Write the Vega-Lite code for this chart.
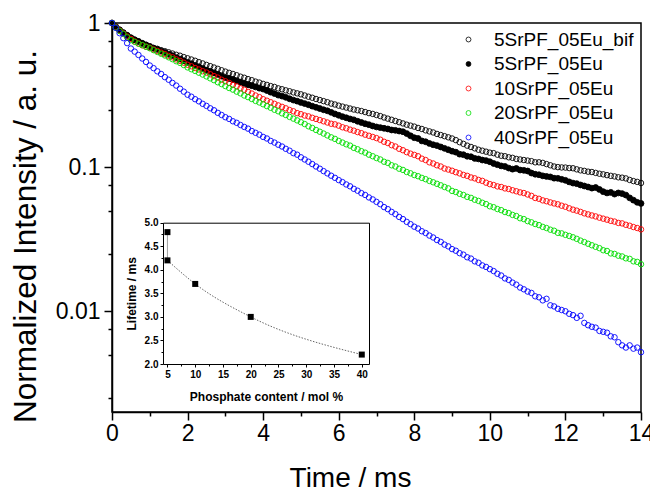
{
"$schema":"https://vega.github.io/schema/vega-lite/v6.json",
"width":529,"height":389,"autosize":"none",
"padding":{"left":112,"top":23,"right":9,"bottom":81},
"background":"white",
"config":{"view":{"stroke":"#000","strokeWidth":1.5},"font":"Liberation Sans","axis":{"grid":false,"domainColor":"#000","tickColor":"#000","labelColor":"#000","titleColor":"#000","labelFlush":false,"labelOverlap":false}},
"datasets":{
"bif":[{"t":0,"v":1},{"t":0.1,"v":0.945},{"t":0.2,"v":0.9},{"t":0.3,"v":0.86},{"t":0.4,"v":0.825},{"t":0.5,"v":0.79},{"t":0.6,"v":0.765},{"t":0.7,"v":0.745},{"t":0.8,"v":0.725},{"t":0.9,"v":0.705},
{"t":1,"v":0.687},{"t":1.1,"v":0.672},{"t":1.2,"v":0.662},{"t":1.3,"v":0.648},{"t":1.4,"v":0.637},{"t":1.5,"v":0.626},{"t":1.6,"v":0.614},{"t":1.7,"v":0.602},{"t":1.8,"v":0.593},{"t":1.9,"v":0.58},
{"t":2,"v":0.569},{"t":2.1,"v":0.558},{"t":2.2,"v":0.547},{"t":2.3,"v":0.535},{"t":2.4,"v":0.524},{"t":2.5,"v":0.512},{"t":2.6,"v":0.502},{"t":2.7,"v":0.491},{"t":2.8,"v":0.481},{"t":2.9,"v":0.47},
{"t":3,"v":0.46},{"t":3.1,"v":0.451},{"t":3.2,"v":0.443},{"t":3.3,"v":0.434},{"t":3.4,"v":0.424},{"t":3.5,"v":0.417},{"t":3.6,"v":0.408},{"t":3.7,"v":0.401},{"t":3.8,"v":0.392},{"t":3.9,"v":0.386},
{"t":4,"v":0.378},{"t":4.1,"v":0.372},{"t":4.2,"v":0.365},{"t":4.3,"v":0.36},{"t":4.4,"v":0.352},{"t":4.5,"v":0.347},{"t":4.6,"v":0.341},{"t":4.7,"v":0.336},{"t":4.8,"v":0.33},{"t":4.9,"v":0.325},
{"t":5,"v":0.32},{"t":5.1,"v":0.314},{"t":5.2,"v":0.308},{"t":5.3,"v":0.303},{"t":5.4,"v":0.297},{"t":5.5,"v":0.292},{"t":5.6,"v":0.287},{"t":5.7,"v":0.282},{"t":5.8,"v":0.276},{"t":5.9,"v":0.272},
{"t":6,"v":0.267},{"t":6.1,"v":0.263},{"t":6.2,"v":0.259},{"t":6.3,"v":0.255},{"t":6.4,"v":0.251},{"t":6.5,"v":0.248},{"t":6.6,"v":0.245},{"t":6.7,"v":0.241},{"t":6.8,"v":0.237},{"t":6.9,"v":0.234},
{"t":7,"v":0.23},{"t":7.1,"v":0.226},{"t":7.2,"v":0.221},{"t":7.3,"v":0.217},{"t":7.4,"v":0.213},{"t":7.5,"v":0.209},{"t":7.6,"v":0.205},{"t":7.7,"v":0.201},{"t":7.8,"v":0.197},{"t":7.9,"v":0.194},
{"t":8,"v":0.191},{"t":8.1,"v":0.187},{"t":8.2,"v":0.184},{"t":8.3,"v":0.18},{"t":8.4,"v":0.177},{"t":8.5,"v":0.174},{"t":8.6,"v":0.17},{"t":8.7,"v":0.167},{"t":8.8,"v":0.164},{"t":8.9,"v":0.161},
{"t":9,"v":0.158},{"t":9.1,"v":0.154},{"t":9.2,"v":0.149},{"t":9.3,"v":0.145},{"t":9.4,"v":0.141},{"t":9.5,"v":0.138},{"t":9.6,"v":0.135},{"t":9.7,"v":0.132},{"t":9.8,"v":0.13},{"t":9.9,"v":0.128},
{"t":10,"v":0.126},{"t":10.1,"v":0.125},{"t":10.2,"v":0.122},{"t":10.3,"v":0.12},{"t":10.4,"v":0.119},{"t":10.5,"v":0.117},{"t":10.6,"v":0.116},{"t":10.7,"v":0.114},{"t":10.8,"v":0.113},{"t":10.9,"v":0.112},
{"t":11,"v":0.111},{"t":11.1,"v":0.11},{"t":11.2,"v":0.108},{"t":11.3,"v":0.108},{"t":11.4,"v":0.107},{"t":11.5,"v":0.105},{"t":11.6,"v":0.103},{"t":11.7,"v":0.101},{"t":11.8,"v":0.1},{"t":11.9,"v":0.0995},
{"t":12,"v":0.0993},{"t":12.1,"v":0.0985},{"t":12.2,"v":0.0982},{"t":12.3,"v":0.0965},{"t":12.4,"v":0.095},{"t":12.5,"v":0.0942},{"t":12.6,"v":0.093},{"t":12.7,"v":0.0925},{"t":12.8,"v":0.0912},{"t":12.9,"v":0.09},
{"t":13,"v":0.0891},{"t":13.1,"v":0.088},{"t":13.2,"v":0.087},{"t":13.3,"v":0.0862},{"t":13.4,"v":0.085},{"t":13.5,"v":0.0845},{"t":13.6,"v":0.0835},{"t":13.7,"v":0.0815},{"t":13.8,"v":0.08},{"t":13.9,"v":0.079},{"t":14,"v":0.0776}],
"b5":[{"t":0,"v":1},{"t":0.1,"v":0.94},{"t":0.2,"v":0.895},{"t":0.3,"v":0.855},{"t":0.4,"v":0.82},{"t":0.5,"v":0.79},{"t":0.6,"v":0.765},{"t":0.7,"v":0.745},{"t":0.8,"v":0.722},{"t":0.9,"v":0.705},
{"t":1,"v":0.687},{"t":1.1,"v":0.668},{"t":1.2,"v":0.656},{"t":1.3,"v":0.638},{"t":1.4,"v":0.625},{"t":1.5,"v":0.607},{"t":1.6,"v":0.594},{"t":1.7,"v":0.575},{"t":1.8,"v":0.562},{"t":1.9,"v":0.547},
{"t":2,"v":0.533},{"t":2.1,"v":0.522},{"t":2.2,"v":0.508},{"t":2.3,"v":0.497},{"t":2.4,"v":0.483},{"t":2.5,"v":0.47},{"t":2.6,"v":0.461},{"t":2.7,"v":0.45},{"t":2.8,"v":0.44},{"t":2.9,"v":0.428},
{"t":3,"v":0.418},{"t":3.1,"v":0.412},{"t":3.2,"v":0.404},{"t":3.3,"v":0.396},{"t":3.4,"v":0.388},{"t":3.5,"v":0.381},{"t":3.6,"v":0.373},{"t":3.7,"v":0.367},{"t":3.8,"v":0.36},{"t":3.9,"v":0.353},
{"t":4,"v":0.348},{"t":4.1,"v":0.34},{"t":4.2,"v":0.331},{"t":4.3,"v":0.324},{"t":4.4,"v":0.316},{"t":4.5,"v":0.311},{"t":4.6,"v":0.305},{"t":4.7,"v":0.298},{"t":4.8,"v":0.292},{"t":4.9,"v":0.287},
{"t":5,"v":0.281},{"t":5.1,"v":0.276},{"t":5.2,"v":0.271},{"t":5.3,"v":0.265},{"t":5.4,"v":0.26},{"t":5.5,"v":0.255},{"t":5.6,"v":0.25},{"t":5.7,"v":0.246},{"t":5.8,"v":0.24},{"t":5.9,"v":0.234},
{"t":6,"v":0.229},{"t":6.1,"v":0.224},{"t":6.2,"v":0.22},{"t":6.3,"v":0.216},{"t":6.4,"v":0.213},{"t":6.5,"v":0.208},{"t":6.6,"v":0.204},{"t":6.7,"v":0.2},{"t":6.8,"v":0.197},{"t":6.9,"v":0.193},
{"t":7,"v":0.19},{"t":7.1,"v":0.188},{"t":7.2,"v":0.186},{"t":7.3,"v":0.184},{"t":7.4,"v":0.181},{"t":7.5,"v":0.18},{"t":7.6,"v":0.178},{"t":7.7,"v":0.176},{"t":7.8,"v":0.171},{"t":7.9,"v":0.165},
{"t":8,"v":0.16},{"t":8.1,"v":0.158},{"t":8.2,"v":0.152},{"t":8.3,"v":0.15},{"t":8.4,"v":0.146},{"t":8.5,"v":0.143},{"t":8.6,"v":0.141},{"t":8.7,"v":0.138},{"t":8.8,"v":0.135},{"t":8.9,"v":0.132},
{"t":9,"v":0.129},{"t":9.1,"v":0.127},{"t":9.2,"v":0.123},{"t":9.3,"v":0.122},{"t":9.4,"v":0.119},{"t":9.5,"v":0.118},{"t":9.6,"v":0.115},{"t":9.7,"v":0.114},{"t":9.8,"v":0.112},{"t":9.9,"v":0.111},
{"t":10,"v":0.109},{"t":10.1,"v":0.106},{"t":10.2,"v":0.104},{"t":10.3,"v":0.102},{"t":10.4,"v":0.101},{"t":10.5,"v":0.0985},{"t":10.6,"v":0.0968},{"t":10.7,"v":0.0979},{"t":10.8,"v":0.0955},{"t":10.9,"v":0.095},
{"t":11,"v":0.094},{"t":11.1,"v":0.091},{"t":11.2,"v":0.0893},{"t":11.3,"v":0.0885},{"t":11.4,"v":0.087},{"t":11.5,"v":0.0862},{"t":11.6,"v":0.0855},{"t":11.7,"v":0.0838},{"t":11.8,"v":0.0836},{"t":11.9,"v":0.0823},
{"t":12,"v":0.081},{"t":12.1,"v":0.079},{"t":12.2,"v":0.0775},{"t":12.3,"v":0.0768},{"t":12.4,"v":0.0752},{"t":12.5,"v":0.074},{"t":12.6,"v":0.0728},{"t":12.7,"v":0.0715},{"t":12.8,"v":0.0722},{"t":12.9,"v":0.07},
{"t":13,"v":0.0676},{"t":13.1,"v":0.0662},{"t":13.2,"v":0.0668},{"t":13.3,"v":0.065},{"t":13.4,"v":0.0662},{"t":13.5,"v":0.0655},{"t":13.6,"v":0.064},{"t":13.7,"v":0.0612},{"t":13.8,"v":0.059},{"t":13.9,"v":0.057},{"t":14,"v":0.056}],
"c10":[{"t":0,"v":1},{"t":0.1,"v":0.935},{"t":0.2,"v":0.885},{"t":0.3,"v":0.845},{"t":0.4,"v":0.805},{"t":0.5,"v":0.775},{"t":0.6,"v":0.745},{"t":0.7,"v":0.722},{"t":0.8,"v":0.7},{"t":0.9,"v":0.685},
{"t":1,"v":0.673},{"t":1.1,"v":0.655},{"t":1.2,"v":0.64},{"t":1.3,"v":0.623},{"t":1.4,"v":0.608},{"t":1.5,"v":0.591},{"t":1.6,"v":0.578},{"t":1.7,"v":0.559},{"t":1.8,"v":0.546},{"t":1.9,"v":0.53},
{"t":2,"v":0.513},{"t":2.1,"v":0.501},{"t":2.2,"v":0.487},{"t":2.3,"v":0.476},{"t":2.4,"v":0.463},{"t":2.5,"v":0.453},{"t":2.6,"v":0.441},{"t":2.7,"v":0.428},{"t":2.8,"v":0.418},{"t":2.9,"v":0.404},
{"t":3,"v":0.394},{"t":3.1,"v":0.384},{"t":3.2,"v":0.372},{"t":3.3,"v":0.364},{"t":3.4,"v":0.352},{"t":3.5,"v":0.344},{"t":3.6,"v":0.333},{"t":3.7,"v":0.324},{"t":3.8,"v":0.314},{"t":3.9,"v":0.306},
{"t":4,"v":0.296},{"t":4.1,"v":0.289},{"t":4.2,"v":0.282},{"t":4.3,"v":0.275},{"t":4.4,"v":0.268},{"t":4.5,"v":0.262},{"t":4.6,"v":0.256},{"t":4.7,"v":0.249},{"t":4.8,"v":0.244},{"t":4.9,"v":0.237},
{"t":5,"v":0.233},{"t":5.1,"v":0.228},{"t":5.2,"v":0.225},{"t":5.3,"v":0.22},{"t":5.4,"v":0.216},{"t":5.5,"v":0.212},{"t":5.6,"v":0.208},{"t":5.7,"v":0.204},{"t":5.8,"v":0.2},{"t":5.9,"v":0.198},
{"t":6,"v":0.194},{"t":6.1,"v":0.189},{"t":6.2,"v":0.186},{"t":6.3,"v":0.182},{"t":6.4,"v":0.179},{"t":6.5,"v":0.175},{"t":6.6,"v":0.172},{"t":6.7,"v":0.168},{"t":6.8,"v":0.165},{"t":6.9,"v":0.162},
{"t":7,"v":0.159},{"t":7.1,"v":0.155},{"t":7.2,"v":0.15},{"t":7.3,"v":0.147},{"t":7.4,"v":0.142},{"t":7.5,"v":0.139},{"t":7.6,"v":0.134},{"t":7.7,"v":0.131},{"t":7.8,"v":0.127},{"t":7.9,"v":0.124},
{"t":8,"v":0.1216},{"t":8.1,"v":0.119},{"t":8.2,"v":0.1145},{"t":8.3,"v":0.112},{"t":8.4,"v":0.108},{"t":8.5,"v":0.106},{"t":8.6,"v":0.103},{"t":8.7,"v":0.101},{"t":8.8,"v":0.0978},{"t":8.9,"v":0.0962},
{"t":9,"v":0.0944},{"t":9.1,"v":0.0922},{"t":9.2,"v":0.0905},{"t":9.3,"v":0.0883},{"t":9.4,"v":0.087},{"t":9.5,"v":0.0848},{"t":9.6,"v":0.0836},{"t":9.7,"v":0.0815},{"t":9.8,"v":0.0803},{"t":9.9,"v":0.078},
{"t":10,"v":0.0762},{"t":10.1,"v":0.0751},{"t":10.2,"v":0.0735},{"t":10.3,"v":0.0728},{"t":10.4,"v":0.0712},{"t":10.5,"v":0.0705},{"t":10.6,"v":0.0691},{"t":10.7,"v":0.068},{"t":10.8,"v":0.0668},{"t":10.9,"v":0.0661},
{"t":11,"v":0.0646},{"t":11.1,"v":0.0632},{"t":11.2,"v":0.0611},{"t":11.3,"v":0.0603},{"t":11.4,"v":0.0588},{"t":11.5,"v":0.058},{"t":11.6,"v":0.0569},{"t":11.7,"v":0.056},{"t":11.8,"v":0.0552},{"t":11.9,"v":0.054},
{"t":12,"v":0.0531},{"t":12.1,"v":0.0518},{"t":12.2,"v":0.0507},{"t":12.3,"v":0.0499},{"t":12.4,"v":0.0489},{"t":12.5,"v":0.0478},{"t":12.6,"v":0.047},{"t":12.7,"v":0.0462},{"t":12.8,"v":0.0455},{"t":12.9,"v":0.0446},
{"t":13,"v":0.0439},{"t":13.1,"v":0.0432},{"t":13.2,"v":0.0424},{"t":13.3,"v":0.0419},{"t":13.4,"v":0.041},{"t":13.5,"v":0.0407},{"t":13.6,"v":0.0398},{"t":13.7,"v":0.0392},{"t":13.8,"v":0.0384},{"t":13.9,"v":0.0378},{"t":14,"v":0.037}],
"c20":[{"t":0,"v":1},{"t":0.1,"v":0.93},{"t":0.2,"v":0.88},{"t":0.3,"v":0.84},{"t":0.4,"v":0.795},{"t":0.5,"v":0.76},{"t":0.6,"v":0.74},{"t":0.7,"v":0.718},{"t":0.8,"v":0.703},{"t":0.9,"v":0.684},
{"t":1,"v":0.668},{"t":1.1,"v":0.648},{"t":1.2,"v":0.63},{"t":1.3,"v":0.612},{"t":1.4,"v":0.595},{"t":1.5,"v":0.578},{"t":1.6,"v":0.561},{"t":1.7,"v":0.543},{"t":1.8,"v":0.529},{"t":1.9,"v":0.511},
{"t":2,"v":0.492},{"t":2.1,"v":0.478},{"t":2.2,"v":0.465},{"t":2.3,"v":0.452},{"t":2.4,"v":0.439},{"t":2.5,"v":0.426},{"t":2.6,"v":0.413},{"t":2.7,"v":0.401},{"t":2.8,"v":0.388},{"t":2.9,"v":0.377},
{"t":3,"v":0.365},{"t":3.1,"v":0.354},{"t":3.2,"v":0.345},{"t":3.3,"v":0.334},{"t":3.4,"v":0.325},{"t":3.5,"v":0.314},{"t":3.6,"v":0.306},{"t":3.7,"v":0.297},{"t":3.8,"v":0.288},{"t":3.9,"v":0.281},
{"t":4,"v":0.273},{"t":4.1,"v":0.265},{"t":4.2,"v":0.258},{"t":4.3,"v":0.25},{"t":4.4,"v":0.244},{"t":4.5,"v":0.236},{"t":4.6,"v":0.23},{"t":4.7,"v":0.223},{"t":4.8,"v":0.217},{"t":4.9,"v":0.211},
{"t":5,"v":0.205},{"t":5.1,"v":0.199},{"t":5.2,"v":0.192},{"t":5.3,"v":0.187},{"t":5.4,"v":0.181},{"t":5.5,"v":0.176},{"t":5.6,"v":0.171},{"t":5.7,"v":0.166},{"t":5.8,"v":0.161},{"t":5.9,"v":0.157},
{"t":6,"v":0.152},{"t":6.1,"v":0.148},{"t":6.2,"v":0.144},{"t":6.3,"v":0.141},{"t":6.4,"v":0.136},{"t":6.5,"v":0.133},{"t":6.6,"v":0.129},{"t":6.7,"v":0.126},{"t":6.8,"v":0.122},{"t":6.9,"v":0.119},
{"t":7,"v":0.1156},{"t":7.1,"v":0.113},{"t":7.2,"v":0.109},{"t":7.3,"v":0.107},{"t":7.4,"v":0.103},{"t":7.5,"v":0.101},{"t":7.6,"v":0.0975},{"t":7.7,"v":0.0956},{"t":7.8,"v":0.0925},{"t":7.9,"v":0.0906},
{"t":8,"v":0.0881},{"t":8.1,"v":0.0865},{"t":8.2,"v":0.0842},{"t":8.3,"v":0.0825},{"t":8.4,"v":0.0802},{"t":8.5,"v":0.0785},{"t":8.6,"v":0.0766},{"t":8.7,"v":0.0748},{"t":8.8,"v":0.0728},{"t":8.9,"v":0.0712},
{"t":9,"v":0.0684},{"t":9.1,"v":0.0672},{"t":9.2,"v":0.0653},{"t":9.3,"v":0.0641},{"t":9.4,"v":0.0622},{"t":9.5,"v":0.0612},{"t":9.6,"v":0.0594},{"t":9.7,"v":0.0583},{"t":9.8,"v":0.0566},{"t":9.9,"v":0.0554},
{"t":10,"v":0.0535},{"t":10.1,"v":0.0527},{"t":10.2,"v":0.0512},{"t":10.3,"v":0.0503},{"t":10.4,"v":0.0488},{"t":10.5,"v":0.048},{"t":10.6,"v":0.0466},{"t":10.7,"v":0.0458},{"t":10.8,"v":0.0442},{"t":10.9,"v":0.0436},
{"t":11,"v":0.0422},{"t":11.1,"v":0.0414},{"t":11.2,"v":0.0403},{"t":11.3,"v":0.0396},{"t":11.4,"v":0.0385},{"t":11.5,"v":0.0378},{"t":11.6,"v":0.0368},{"t":11.7,"v":0.0362},{"t":11.8,"v":0.035},{"t":11.9,"v":0.0347},
{"t":12,"v":0.0339},{"t":12.1,"v":0.0333},{"t":12.2,"v":0.0326},{"t":12.3,"v":0.0318},{"t":12.4,"v":0.0309},{"t":12.5,"v":0.0302},{"t":12.6,"v":0.0294},{"t":12.7,"v":0.0287},{"t":12.8,"v":0.028},{"t":12.9,"v":0.0274},
{"t":13,"v":0.0265},{"t":13.1,"v":0.0262},{"t":13.2,"v":0.0252},{"t":13.3,"v":0.025},{"t":13.4,"v":0.0243},{"t":13.5,"v":0.024},{"t":13.6,"v":0.0233},{"t":13.7,"v":0.0231},{"t":13.8,"v":0.0222},{"t":13.9,"v":0.022},{"t":14,"v":0.0212}],
"c40":[{"t":0,"v":1},{"t":0.1,"v":0.925},{"t":0.2,"v":0.85},{"t":0.3,"v":0.785},{"t":0.4,"v":0.725},{"t":0.5,"v":0.665},{"t":0.6,"v":0.633},{"t":0.7,"v":0.6},{"t":0.8,"v":0.567},{"t":0.9,"v":0.537},
{"t":1,"v":0.507},{"t":1.1,"v":0.486},{"t":1.2,"v":0.462},{"t":1.3,"v":0.443},{"t":1.4,"v":0.421},{"t":1.5,"v":0.404},{"t":1.6,"v":0.384},{"t":1.7,"v":0.368},{"t":1.8,"v":0.35},{"t":1.9,"v":0.334},
{"t":2,"v":0.318},{"t":2.1,"v":0.308},{"t":2.2,"v":0.296},{"t":2.3,"v":0.286},{"t":2.4,"v":0.275},{"t":2.5,"v":0.266},{"t":2.6,"v":0.256},{"t":2.7,"v":0.248},{"t":2.8,"v":0.238},{"t":2.9,"v":0.23},
{"t":3,"v":0.222},{"t":3.1,"v":0.216},{"t":3.2,"v":0.208},{"t":3.3,"v":0.203},{"t":3.4,"v":0.196},{"t":3.5,"v":0.19},{"t":3.6,"v":0.185},{"t":3.7,"v":0.178},{"t":3.8,"v":0.173},{"t":3.9,"v":0.168},
{"t":4,"v":0.162},{"t":4.1,"v":0.158},{"t":4.2,"v":0.152},{"t":4.3,"v":0.148},{"t":4.4,"v":0.143},{"t":4.5,"v":0.139},{"t":4.6,"v":0.134},{"t":4.7,"v":0.13},{"t":4.8,"v":0.125},{"t":4.9,"v":0.122},
{"t":5,"v":0.117},{"t":5.1,"v":0.113},{"t":5.2,"v":0.109},{"t":5.3,"v":0.105},{"t":5.4,"v":0.101},{"t":5.5,"v":0.0975},{"t":5.6,"v":0.0938},{"t":5.7,"v":0.0905},{"t":5.8,"v":0.0872},{"t":5.9,"v":0.0843},
{"t":6,"v":0.0813},{"t":6.1,"v":0.0787},{"t":6.2,"v":0.0758},{"t":6.3,"v":0.0736},{"t":6.4,"v":0.0707},{"t":6.5,"v":0.0686},{"t":6.6,"v":0.066},{"t":6.7,"v":0.0641},{"t":6.8,"v":0.0616},{"t":6.9,"v":0.0597},
{"t":7,"v":0.0574},{"t":7.1,"v":0.0553},{"t":7.2,"v":0.0528},{"t":7.3,"v":0.0511},{"t":7.4,"v":0.0489},{"t":7.5,"v":0.0472},{"t":7.6,"v":0.0451},{"t":7.7,"v":0.0436},{"t":7.8,"v":0.0417},{"t":7.9,"v":0.0402},
{"t":8,"v":0.0386},{"t":8.1,"v":0.0375},{"t":8.2,"v":0.0359},{"t":8.3,"v":0.0349},{"t":8.4,"v":0.0335},{"t":8.5,"v":0.0325},{"t":8.6,"v":0.0312},{"t":8.7,"v":0.0303},{"t":8.8,"v":0.029},{"t":8.9,"v":0.0282},
{"t":9,"v":0.027},{"t":9.1,"v":0.0263},{"t":9.2,"v":0.0253},{"t":9.3,"v":0.0247},{"t":9.4,"v":0.0237},{"t":9.5,"v":0.0232},{"t":9.6,"v":0.0222},{"t":9.7,"v":0.0217},{"t":9.8,"v":0.0208},{"t":9.9,"v":0.0203},
{"t":10,"v":0.0196},{"t":10.1,"v":0.019},{"t":10.2,"v":0.0182},{"t":10.3,"v":0.0177},{"t":10.4,"v":0.0169},{"t":10.5,"v":0.0165},{"t":10.6,"v":0.0158},{"t":10.7,"v":0.0153},{"t":10.8,"v":0.0146},{"t":10.9,"v":0.0142},
{"t":11,"v":0.0137},{"t":11.1,"v":0.0134},{"t":11.2,"v":0.0127},{"t":11.3,"v":0.0125},{"t":11.4,"v":0.0119},{"t":11.5,"v":0.0122},{"t":11.6,"v":0.011},{"t":11.7,"v":0.0108},{"t":11.8,"v":0.0104},{"t":11.9,"v":0.0102},
{"t":12,"v":0.01},{"t":12.1,"v":0.0096},{"t":12.2,"v":0.0094},{"t":12.3,"v":0.009},{"t":12.4,"v":0.0093},{"t":12.5,"v":0.0083},{"t":12.6,"v":0.008},{"t":12.7,"v":0.0078},{"t":12.8,"v":0.0077},{"t":12.9,"v":0.0073},
{"t":13,"v":0.0072},{"t":13.1,"v":0.0071},{"t":13.2,"v":0.0067},{"t":13.3,"v":0.0066},{"t":13.4,"v":0.0061},{"t":13.5,"v":0.0058},{"t":13.6,"v":0.0056},{"t":13.7,"v":0.0058},{"t":13.8,"v":0.0055},{"t":13.9,"v":0.0056},{"t":14,"v":0.0052}]
},
"resolve":{"scale":{"x":"independent","y":"independent"}},
"layer":[
{
"encoding":{
"x":{"field":"t","type":"quantitative","scale":{"domain":[0,14],"nice":false,"zero":false},
 "axis":{"title":"Time / ms","values":[0,1,2,3,4,5,6,7,8,9,10,11,12,13,14],"format":"d","labelExpr":"datum.value % 2 == 0 ? datum.label : ''","tickSize":{"condition":{"test":"datum.value % 2 == 0","value":8},"value":4},"tickWidth":1.5,"domainWidth":1.5,"labelFontSize":23,"labelPadding":2,"titleFontSize":28,"titleFontWeight":"normal","titleX":238,"titleY":66,"titleAlign":"center","titleBaseline":"middle"}},
"y":{"field":"v","type":"quantitative","scale":{"type":"log","domain":[0.002,1],"nice":false},
 "axis":{"title":"Normalized Intensity / a. u.","values":[1,0.75,0.5,0.25,0.1,0.075,0.05,0.025,0.01,0.0075,0.005,0.0025],"labelExpr":"datum.value == 1 ? '1' : datum.value == 0.1 ? '0.1' : datum.value == 0.01 ? '0.01' : ''","tickSize":{"condition":{"test":"datum.value == 1 || datum.value == 0.1 || datum.value == 0.01","value":8},"value":4},"tickWidth":1.5,"domainWidth":1.5,"labelFontSize":23,"labelPadding":4,"titleFontSize":31.5,"titleFontWeight":"normal","titleAngle":-90,"titleX":-86,"titleY":213,"titleBaseline":"middle","titleAlign":"center"}}
},
"layer":[
{"data":{"name":"bif"},"mark":{"type":"point","shape":"circle","size":30,"strokeWidth":0.9,"filled":true,"opacity":1},
 "encoding":{
  "stroke":{"datum":"5SrPF_05Eu_bif","type":"nominal","scale":{"domain":["5SrPF_05Eu_bif","5SrPF_05Eu","10SrPF_05Eu","20SrPF_05Eu","40SrPF_05Eu"],"range":["#000000","#000000","#ff0000","#00dd00","#0000ff"]},"legend":{"title":null,"orient":"none","legendX":347,"legendY":7,"labelFontSize":19,"labelColor":"#000","symbolType":"circle","symbolSize":24,"symbolStrokeWidth":0.8,"rowPadding":4.5,"labelOffset":16,"padding":0}},
  "fill":{"datum":"5SrPF_05Eu_bif","type":"nominal","scale":{"domain":["5SrPF_05Eu_bif","5SrPF_05Eu","10SrPF_05Eu","20SrPF_05Eu","40SrPF_05Eu"],"range":["transparent","#000000","transparent","transparent","transparent"]},"legend":{"title":null,"orient":"none","legendX":347,"legendY":7,"labelFontSize":19,"labelColor":"#000","symbolType":"circle","symbolSize":24,"symbolStrokeWidth":0.8,"rowPadding":4.5,"labelOffset":16,"padding":0}}}},
{"data":{"name":"b5"},"mark":{"type":"point","shape":"circle","size":34,"strokeWidth":0.9,"filled":true,"opacity":1},
 "encoding":{"stroke":{"datum":"5SrPF_05Eu","type":"nominal"},"fill":{"datum":"5SrPF_05Eu","type":"nominal"}}},
{"data":{"name":"c10"},"mark":{"type":"point","shape":"circle","size":30,"strokeWidth":0.9,"filled":true,"opacity":1},
 "encoding":{"stroke":{"datum":"10SrPF_05Eu","type":"nominal"},"fill":{"datum":"10SrPF_05Eu","type":"nominal"}}},
{"data":{"name":"c20"},"mark":{"type":"point","shape":"circle","size":30,"strokeWidth":0.9,"filled":true,"opacity":1},
 "encoding":{"stroke":{"datum":"20SrPF_05Eu","type":"nominal"},"fill":{"datum":"20SrPF_05Eu","type":"nominal"}}},
{"data":{"name":"c40"},"mark":{"type":"point","shape":"circle","size":30,"strokeWidth":0.9,"filled":true,"opacity":1},
 "encoding":{"stroke":{"datum":"40SrPF_05Eu","type":"nominal"},"fill":{"datum":"40SrPF_05Eu","type":"nominal"}}}
]
},
{"data":{"values":[{"p":5,"lt":4.2},{"p":10,"lt":3.7},{"p":20,"lt":3.0},{"p":40,"lt":2.2}]},
 "mark":{"type":"line","interpolate":"monotone","color":"#666666","strokeWidth":1,"strokeDash":[1.5,1.5]},
 "encoding":{
  "x":{"field":"p","type":"quantitative","scale":{"domain":[4.2,41.3],"range":[51,257],"nice":false,"zero":false},
   "axis":{"orient":"bottom","offset":-48,"title":"Phosphate content /  mol %","values":[5,7.5,10,12.5,15,17.5,20,22.5,25,27.5,30,32.5,35,37.5,40],"format":"d","labelExpr":"datum.value % 5 == 0 ? datum.label : ''","tickSize":{"condition":{"test":"datum.value % 5 == 0","value":3},"value":2},"tickWidth":1,"domainWidth":1,"labelFontSize":10,"labelFontWeight":"bold","labelPadding":2,"titleFontSize":12,"titleFontWeight":"bold","titlePadding":12}},
  "y":{"field":"lt","type":"quantitative","scale":{"domain":[2,5],"range":[341,199.7],"nice":false,"zero":false},
   "axis":{"orient":"left","offset":-51,"title":"Lifetime / ms","values":[2,2.25,2.5,2.75,3,3.25,3.5,3.75,4,4.25,4.5,4.75,5],"labelExpr":"(datum.value * 2) % 1 == 0 ? format(datum.value, '.1f') : ''","tickSize":{"condition":{"test":"(datum.value * 2) % 1 == 0","value":3},"value":2},"tickWidth":1,"domainWidth":1,"labelFontSize":10,"labelFontWeight":"bold","labelPadding":2,"titleFontSize":12,"titleFontWeight":"bold","titlePadding":6}}
 }},
{"data":{"values":[{"p":5,"lt":4.8},{"p":5,"lt":4.2}]},
 "mark":{"type":"line","color":"#888888","strokeWidth":0.8},
 "encoding":{
  "x":{"field":"p","type":"quantitative","scale":{"domain":[4.2,41.3],"range":[51,257],"nice":false,"zero":false},"axis":null},
  "y":{"field":"lt","type":"quantitative","scale":{"domain":[2,5],"range":[341,199.7],"nice":false,"zero":false},"axis":null}
 }},
{"data":{"values":[{"p":5,"lt":4.8},{"p":5,"lt":4.2},{"p":10,"lt":3.7},{"p":20,"lt":3.0},{"p":40,"lt":2.2}]},
 "mark":{"type":"square","size":36,"color":"#000000","filled":true,"opacity":1},
 "encoding":{
  "x":{"field":"p","type":"quantitative","scale":{"domain":[4.2,41.3],"range":[51,257],"nice":false,"zero":false},"axis":{"orient":"top","offset":-199.7,"ticks":false,"labels":false,"title":null,"domainWidth":1}},
  "y":{"field":"lt","type":"quantitative","scale":{"domain":[2,5],"range":[341,199.7],"nice":false,"zero":false},"axis":{"orient":"right","offset":-272,"ticks":false,"labels":false,"title":null,"domainWidth":1}}
 }}
]
}
